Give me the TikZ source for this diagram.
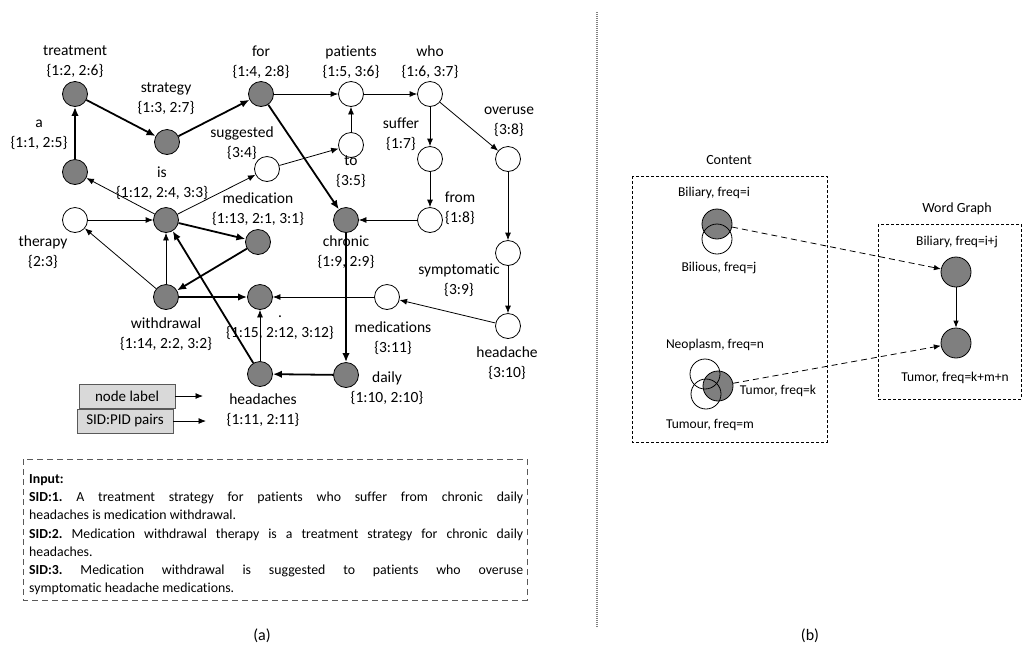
\documentclass[tikz,border=0pt]{standalone}
\usepackage{fontspec}
\setmainfont{Carlito}[Ligatures=NoCommon]
\usetikzlibrary{arrows.meta}
\definecolor{ng}{HTML}{7F7F7F}
\definecolor{lg}{HTML}{D9D9D9}
\definecolor{dg}{HTML}{595959}
\begin{document}
\begin{tikzpicture}[x=1pt,y=-1pt,
  gnode/.style={circle,draw=black,line width=0.8pt,fill=ng,minimum size=25pt,inner sep=0pt},
  wnode/.style={circle,draw=black,line width=0.8pt,fill=white,minimum size=25pt,inner sep=0pt},
  lbl/.style={font=\fontsize{15.5}{20}\selectfont,align=center,inner sep=0pt},
  thk/.style={line width=1.8pt,-{Latex[length=9pt,width=7.5pt]}},
  thn/.style={line width=0.8pt,-{Latex[length=7.5pt,width=6pt]}},
  legbox/.style={draw=dg,line width=0.8pt,fill=lg,minimum width=96pt,minimum height=24pt,inner sep=0pt,font=\fontsize{15}{18}\selectfont},
  rlbl/.style={font=\fontsize{13.5}{16}\selectfont,inner sep=0pt},
  bignode/.style={circle,draw=black,line width=0.8pt,minimum size=30pt,inner sep=0pt},
  dbox/.style={draw=black,line width=0.7pt,dash pattern=on 3pt off 2pt},
  captxt/.style={font=\fontsize{16}{18}\selectfont,inner sep=0pt}
]
\useasboundingbox (0,0) rectangle (1027,649);
\fill[white] (0,0) rectangle (1027,649);

% ---------------- graph nodes ----------------
\node[gnode] (tr) at (75,94) {};
\node[gnode] (st) at (167,142) {};
\node[gnode] (fo) at (261,94) {};
\node[wnode] (pa) at (351,94) {};
\node[wnode] (wh) at (430,94) {};
\node[wnode] (to) at (351,145) {};
\node[wnode] (su) at (267,169) {};
\node[wnode] (sf) at (430,159) {};
\node[wnode] (ov) at (508,159) {};
\node[gnode] (aa) at (75,172) {};
\node[gnode] (is) at (166,220) {};
\node[wnode] (th) at (75,220) {};
\node[gnode] (me) at (258,242) {};
\node[gnode] (wi) at (166,297) {};
\node[gnode] (pe) at (260,297) {};
\node[gnode] (hs) at (260,374) {};
\node[gnode] (ch) at (346,220) {};
\node[wnode] (fr) at (430,220) {};
\node[wnode] (sy) at (508,253) {};
\node[wnode] (ms) at (387,297) {};
\node[wnode] (hd) at (508,326) {};
\node[gnode] (da) at (346,375) {};

% ---------------- labels ----------------
\node[lbl] (ltr) at (75,62) {treatment\\\{1:2, 2:6\}};
\node[lbl] (lst) at (166,98.5) {strategy\\\{1:3, 2:7\}};
\node[lbl] (lfo) at (261,62) {for\\\{1:4, 2:8\}};
\node[lbl] (lpa) at (351,62) {patients\\\{1:5, 3:6\}};
\node[lbl] (lwh) at (430,62) {who\\\{1:6, 3:7\}};
\node[lbl] (laa) at (39,135) {a\\\{1:1, 2:5\}};
\node[lbl] (lsu) at (242,143) {suggested\\\{3:4\}};
\node[lbl] (lto) at (351,172) {to\\\{3:5\}};
\node[lbl] (lsf) at (401,134) {suffer\\\{1:7\}};
\node[lbl] (lov) at (509,122) {overuse\\\{3:8\}};
\node[lbl] (lis) at (162,183) {is\\\{1:12, 2:4, 3:3\}};
\node[lbl] (lme) at (258,209) {medication\\\{1:13, 2:1, 3:1\}};
\node[lbl] (lth) at (43,252) {therapy\\\{2:3\}};
\node[lbl] (lwi) at (166,334) {withdrawal\\\{1:14, 2:2, 3:2\}};
\node[lbl] (lpe) at (280,328) {.\\\{1:15, 2:12, 3:12\}};
\node[lbl] (lhs) at (263,410) {headaches\\\{1:11, 2:11\}};
\node[lbl] (lch) at (346,252) {chronic\\\{1:9, 2:9\}};
\node[lbl] (lfr) at (460,208) {from\\\{1:8\}};
\node[lbl] (lsy) at (459,280) {symptomatic\\\{3:9\}};
\node[lbl] (lms) at (393,338) {medications\\\{3:11\}};
\node[lbl] (lhd) at (507,363) {headache\\\{3:10\}};
\node[lbl] (lda) at (387,388) {daily\\\{1:10, 2:10\}};

% ---------------- edges ----------------
\draw[thk] (aa) -- (tr);
\draw[thk] (tr) -- (st);
\draw[thk] (st) -- (fo);
\draw[thk] (is) -- (me);
\draw[thk] (me) -- (wi);
\draw[thk] (wi) -- (pe);
\draw[thk] (hs) -- (is);
\draw[thk] (fo) -- (ch);
\draw[thk] (ch) -- (da);
\draw[thk] (da) -- (hs);

\draw[thn] (fo) -- (pa);
\draw[thn] (pa) -- (wh);
\draw[thn] (to) -- (pa);
\draw[thn] (su) -- (to);
\draw[thn] (is) -- (su);
\draw[thn] (is) -- (aa);
\draw[thn] (th) -- (is);
\draw[thn] (wi) -- (th);
\draw[thn] (wi) -- (is);
\draw[thn] (hs) -- (pe);
\draw[thn] (wh) -- (sf);
\draw[thn] (sf) -- (fr);
\draw[thn] (fr) -- (ch);
\draw[thn] (wh) -- (ov);
\draw[thn] (ov) -- (sy);
\draw[thn] (sy) -- (hd);
\draw[thn] (hd) -- (ms);
\draw[thn] (ms) -- (pe);

% ---------------- legend ----------------
\node[legbox] (nl) at (127,396) {node label};
\coordinate (nle) at (203,396);
\draw[thn] (nl) -- (nle);
\node[legbox] (sp) at (125,421) {SID:PID pairs};
\coordinate (spe) at (206,421);
\draw[thn] (sp) -- (spe);

% ---------------- input box ----------------
\draw[draw=dg,line width=1pt,dash pattern=on 6pt off 4pt] (23,459) rectangle (527,600);
\node[anchor=north west,inner sep=0pt,text width=494pt,align=justify,
      font=\fontsize{13.8}{18.3}\selectfont] (inp) at (29,474)
{\setlength{\parindent}{0pt}\frenchspacing\textbf{Input:}\par
\textbf{SID:1.} A treatment strategy for patients who suffer from chronic daily\linebreak headaches is medication withdrawal.\par
\textbf{SID:2.} Medication withdrawal therapy is a treatment strategy for chronic daily\linebreak headaches.\par
\textbf{SID:3.} Medication withdrawal is suggested to patients who overuse\linebreak symptomatic headache medications.\par};

\node[captxt] (ca) at (262,636) {(a)};

% ---------------- separator ----------------
\draw[gray,line width=1.3pt,dash pattern=on 1pt off 1pt] (597,12) -- (597,628);

% ---------------- right panel ----------------
\draw[dbox] (632,176) rectangle (827,442);
\draw[dbox] (878,224) rectangle (1021,399);
\node[font=\fontsize{14}{16}\selectfont,inner sep=0pt] (lcont) at (729,160) {Content};
\node[font=\fontsize{14}{16}\selectfont,inner sep=0pt] (lwg) at (957,209) {Word Graph};

\node[bignode,fill=ng] (bil) at (717,224) {};
\node[bignode] (bilious) at (717,239) {};
\node[bignode,fill=ng] (tumor) at (718,386) {};
\node[bignode] (neo) at (705,374) {};
\node[bignode] (tumour) at (706,394) {};
\node[bignode,fill=ng] (wg1) at (956,272) {};
\node[bignode,fill=ng] (wg2) at (956,343) {};

\node[rlbl] (lbil) at (714,193) {Biliary, freq=i};
\node[rlbl] (lbilious) at (719,268) {Bilious, freq=j};
\node[rlbl] (lneo) at (715,345) {Neoplasm, freq=n};
\node[rlbl] (ltumor) at (778,391) {Tumor, freq=k};
\node[rlbl] (ltumour) at (710,425) {Tumour, freq=m};
\node[rlbl] (lwg1) at (957,242) {Biliary, freq=i+j};
\node[rlbl] (lwg2) at (955,378) {Tumor, freq=k+m+n};

\draw[line width=0.8pt,dash pattern=on 6pt off 4pt,-{Latex[length=7pt,width=5.5pt]}] (bil) -- (wg1);
\draw[line width=0.8pt,dash pattern=on 6pt off 4pt,-{Latex[length=7pt,width=5.5pt]}] (tumor) -- (wg2);
\draw[line width=0.8pt,-{Latex[length=7pt,width=5.5pt]}] (wg1) -- (wg2);

\node[captxt] (cb) at (810,636) {(b)};
\end{tikzpicture}
\end{document}
